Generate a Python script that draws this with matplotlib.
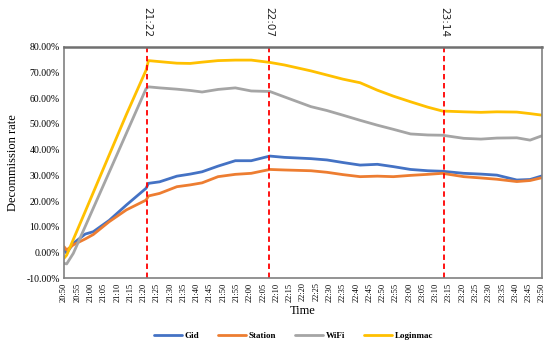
import matplotlib
matplotlib.use("Agg")
import matplotlib.pyplot as plt

# minutes since 20:50
minutes = [0, 1, 3.5, 8, 11, 17, 23.5, 30.9, 31.8, 36, 42.5, 47.5, 52, 58, 64.5,
           70.5, 77.5, 83, 93, 99, 105, 111.5, 118, 124, 130.5, 137, 142.5,
           150.5, 157, 163, 170.5, 175.5, 180]

gid = [1.3, -0.2, 3.6, 7.2, 8.1, 12.5, 18.5, 25.0, 26.9, 27.5, 29.7, 30.5, 31.4,
       33.6, 35.7, 35.7, 37.5, 37.0, 36.5, 36.0, 35.0, 34.0, 34.3, 33.4, 32.3,
       31.8, 31.6, 30.8, 30.5, 30.1, 28.2, 28.4, 29.8]
station = [2.3, 1.0, 3.0, 5.3, 7.0, 12.0, 16.6, 20.4, 22.0, 23.0, 25.6, 26.3,
           27.1, 29.5, 30.4, 30.8, 32.3, 32.1, 31.8, 31.2, 30.3, 29.5, 29.7,
           29.5, 30.0, 30.4, 30.8, 29.5, 29.0, 28.5, 27.6, 28.0, 29.1]
wifi = [-4.2, -4.4, -0.3, 10.2, 17.2, 31.2, 46.4, 63.7, 64.4, 64.0, 63.5, 63.0,
        62.4, 63.4, 64.0, 62.8, 62.6, 60.5, 56.7, 55.2, 53.4, 51.4, 49.5, 47.9,
        46.1, 45.7, 45.6, 44.4, 44.1, 44.5, 44.6, 43.7, 45.4]
loginmac = [-2.2, -1.0, 5.1, 16.0, 23.3, 37.9, 53.7, 70.9, 74.6, 74.2, 73.6,
            73.5, 74.0, 74.6, 74.8, 74.8, 73.9, 72.9, 70.6, 69.0, 67.4, 66.0,
            63.1, 60.8, 58.6, 56.5, 55.0, 54.7, 54.5, 54.7, 54.6, 54.0, 53.4]

series_names = ["Gid", "Station", "WiFi", "Loginmac"]
colors = ["#4472C4", "#ED7D31", "#A5A5A5", "#FFC000"]

event_minutes = [31.3, 77.2, 143.0]
event_labels = ["21:22", "22:07", "23:14"]

tick_minutes = list(range(0, 181, 5))
tick_labels = []
for m in tick_minutes:
    total = 20 * 60 + 50 + m
    tick_labels.append(f"{total // 60}:{total % 60:02d}")

y_ticks = list(range(-10, 81, 10))

serif = "Liberation Serif"

fig = plt.figure(figsize=(5.5, 3.45), dpi=100)
ax = fig.add_axes([0.1164, 0.1933, 0.8691, 0.6713])

for name, vals, c in zip(series_names, [gid, station, wifi, loginmac], colors):
    ax.plot(minutes, vals, color=c, lw=2.0, label=name, solid_capstyle="round")

for em, el in zip(event_minutes, event_labels):
    ax.axvline(em, color="#FF0000", lw=1.3, ls=(0, (3, 2)))
    ax.text(em, 1.04, el, transform=ax.get_xaxis_transform(), rotation=-90,
            ha="center", va="bottom", fontsize=7.5, family="DejaVu Sans",
            color="#222222")

ax.set_xlim(0, 180)
ax.set_ylim(-10, 80)
ax.set_xticks(tick_minutes)
ax.set_xticklabels(tick_labels, rotation=90, fontsize=6, family=serif)
ax.set_yticks(y_ticks)
ax.set_yticklabels([f"{v:.2f}%" for v in y_ticks], fontsize=7, family=serif)
ax.tick_params(length=0, pad=3)

for s in ax.spines.values():
    s.set_color("#808080")
    s.set_linewidth(1.2)
ax.spines["top"].set_linewidth(1.8)
ax.spines["top"].set_color("#707070")

ax.set_ylabel("Decommission rate", fontsize=9, family=serif, labelpad=5)
ax.set_xlabel("Time", fontsize=9, family=serif, labelpad=2)

fig.legend(loc="center", bbox_to_anchor=(293.5 / 550, 1 - 336 / 345), ncol=4,
           frameon=False, prop={"family": serif, "size": 6.5, "weight": "bold"},
           handlelength=3.1, handletextpad=0.3, columnspacing=2.1)

fig.savefig("out.png", dpi=100)
